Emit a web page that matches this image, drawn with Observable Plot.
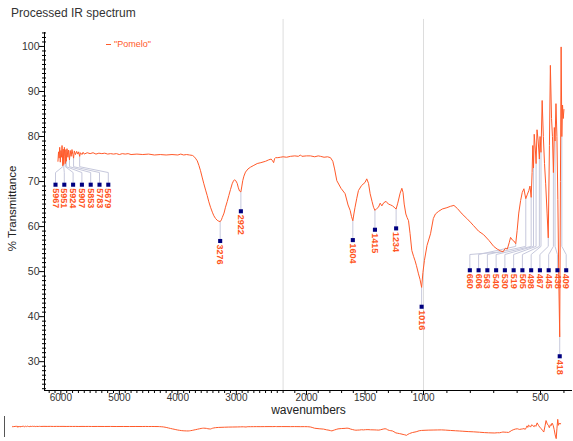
<!DOCTYPE html>
<html>
<head>
<meta charset="utf-8">
<script src="https://cdn.jsdelivr.net/npm/d3@7"></script>
<script src="https://cdn.jsdelivr.net/npm/@observablehq/plot@0.6"></script>
<style>
  body { margin: 0; background: #fff; font-family: "Liberation Sans", Arial, sans-serif; }
  #wrap { position: relative; width: 573px; height: 441px; overflow: hidden; }
  #main { position: absolute; left: 0; top: 0; }
  #title { position: absolute; left: 11px; top: 6px; font-size: 12px; line-height: 14px; color: #333; }
  #legend { position: absolute; left: 106px; top: 39px; font-size: 9px; line-height: 11px; color: #ff5a2a; }
  #legend i { display: inline-block; width: 5px; height: 1px; background: #ff5a2a; vertical-align: middle; margin-right: 3px; }
  #overview { position: absolute; left: 0; top: 412px; }
  #ovbar { position: absolute; left: 4px; top: 416px; width: 0; height: 21px; border-left: 1px solid #555; }
</style>
</head>
<body>
<div id="wrap">
  <div id="main"></div>
  <div id="title">Processed IR spectrum</div>
  <div id="legend"><i></i>"Pomelo"</div>
  <div id="overview"></div>
  <div id="ovbar"></div>
</div>
<script>
// Spectrum: wavenumber (cm-1) and % transmittance
const wavenumber = [
  6050, 6040, 6030, 6020, 6010, 6000, 5990, 5980, 5967, 5960, 5951, 5940, 5932, 5924, 5915, 5907,
  5895, 5880, 5870, 5853, 5840, 5825, 5810, 5795, 5783, 5770, 5750, 5730, 5710, 5695, 5679, 5665,
  5640, 5620, 5600, 5550, 5500, 5450, 5400, 5350, 5300, 5250, 5200, 5150, 5100, 5050, 5000, 4950,
  4900, 4850, 4800, 4700, 4600, 4500, 4400, 4300, 4200, 4100, 4000, 3950, 3900, 3850, 3800, 3750,
  3727, 3700, 3668, 3640, 3612, 3585, 3555, 3525, 3498, 3470, 3441, 3410, 3384, 3355, 3327, 3300,
  3276, 3255, 3241, 3210, 3185, 3155, 3128, 3100, 3071, 3050, 3031, 3010, 2985, 2965, 2945, 2922,
  2905, 2890, 2870, 2843, 2800, 2757, 2700, 2643, 2580, 2500, 2450, 2404, 2380, 2362, 2345, 2330,
  2290, 2245, 2200, 2170, 2137, 2100, 2070, 2051, 2040, 2000, 1966, 1930, 1900, 1880, 1850, 1820,
  1795, 1775, 1760, 1741, 1705, 1670, 1645, 1627, 1615, 1604, 1595, 1585, 1570, 1556, 1530, 1500,
  1485, 1470, 1456, 1440, 1427, 1415, 1400, 1385, 1370, 1356, 1340, 1320, 1300, 1280, 1265, 1251,
  1234, 1220, 1200, 1185, 1175, 1165, 1151, 1140, 1128, 1115, 1100, 1085, 1072, 1060, 1043, 1030,
  1016, 1005, 996, 985, 970, 958, 949, 935, 920, 900, 885, 870, 855, 835, 815, 800,
  786, 765, 743, 720, 700, 685, 671, 660, 650, 642, 634, 628, 620, 614, 606, 600,
  593, 585, 578, 571, 566, 563, 556, 550, 545, 540, 536, 533, 530, 527, 522, 519,
  515, 510, 505, 502, 498, 493, 488, 483, 478, 472, 467, 462, 458, 453, 449, 445,
  441, 438, 434, 430, 426, 422, 418, 415, 412, 409, 406, 403, 400
];
const transmittance = [
  74.5, 76.6, 75.2, 77.6, 74.3, 76.9, 75.4, 78.0, 73.5, 77.2, 73.8, 77.6, 75.5, 74.0, 77.1, 74.5,
  77.3, 75.4, 77.0, 74.8, 76.9, 75.6, 77.1, 76.0, 75.2, 76.8, 76.0, 76.7, 76.1, 76.6, 75.6, 76.4,
  76.0, 76.5, 76.1, 76.4, 76.2, 76.4, 76.1, 76.3, 76.2, 76.3, 76.1, 76.2, 76.1, 76.2, 76.0, 76.2,
  76.1, 76.2, 76.0, 76.1, 76.0, 76.1, 75.9, 76.0, 75.9, 76.0, 75.9, 76.1, 75.9, 76.0, 75.9, 75.8,
  75.6, 75.2, 74.6, 73.6, 72.4, 71.0, 69.5, 68.1, 66.9, 65.5, 64.3, 63.2, 62.4, 61.8, 61.4, 61.2,
  61.1, 61.5, 62.0, 63.0, 64.3, 65.6, 66.9, 68.2, 69.5, 70.1, 70.4, 70.2, 69.6, 68.6, 67.9, 67.7,
  69.0, 70.2, 71.2, 72.1, 72.8, 73.2, 73.6, 74.0, 74.2, 74.5, 74.8, 75.0, 74.6, 74.2, 75.1, 75.3,
  75.3, 75.4, 75.5, 75.4, 75.6, 75.7, 75.6, 75.9, 75.6, 75.7, 75.7, 75.5, 75.7, 75.6, 75.4, 75.5,
  75.3, 74.5, 72.8, 70.2, 68.5, 67.3, 64.8, 63.6, 62.2, 61.3, 62.8, 64.3, 66.3, 68.0, 69.1, 69.8,
  70.6, 69.6, 67.3, 65.6, 64.3, 63.6, 64.0, 64.3, 65.2, 64.6, 65.3, 65.6, 65.0, 64.8, 64.6, 64.3,
  63.9, 65.2, 67.4, 68.5, 67.6, 65.0, 62.8, 62.0, 61.3, 58.5, 54.7, 53.4, 52.4, 51.3, 49.5, 48.3,
  46.5, 49.8, 52.5, 55.8, 58.4, 61.8, 62.8, 63.4, 63.9, 64.2, 64.5, 64.7, 64.0, 62.8, 61.8, 61.0,
  60.2, 59.0, 58.2, 56.9, 55.6, 55.0, 54.6, 54.4, 55.2, 55.0, 56.4, 57.6, 57.0, 56.8, 56.2, 59.1,
  63.0, 65.8, 67.6, 68.4, 67.0, 66.2, 67.2, 68.0, 69.0, 66.5, 72.0, 78.0, 73.0, 80.5, 77.0, 74.0,
  81.5, 79.0, 75.0, 80.0, 76.5, 88.0, 80.0, 74.0, 69.5, 63.0, 57.5, 78.0, 95.8, 84.0, 80.0, 72.0,
  82.0, 79.0, 87.3, 80.0, 66.0, 48.0, 35.5, 70.0, 99.9, 80.0, 87.0, 84.0, 86.0
];

// Labelled absorption minima
const peaksHighWn = [5967, 5951, 5924, 5907, 5853, 5783, 5679];
const peaksSingle = [3276, 2922, 1604, 1415, 1234, 1016, 418];
const peaksLowWn = [660, 606, 563, 540, 530, 519, 505, 498, 467, 445, 438, 409];

// Axis ticks
const xMajor = [6000, 5000, 4000, 3000, 2000, 1500, 1000, 500];
const xMinor = d3.range(6200, 399, -100).filter(v => !xMajor.includes(v));
const yMajor = [30, 40, 50, 60, 70, 80, 90, 100];
const yMinor = d3.range(24, 104, 1).filter(v => v % 10 !== 0);

const lineColor = "#ff5a2a";
const labelColor = "#ff5522";
const leaderColor = "#c6c8dc";
const markerColor = "#000080";

const spectrum = wavenumber.map((w, i) => ({wn: w, t: transmittance[i]}));
const tAt = new Map(spectrum.map(d => [d.wn, d.t]));

// x axis is compressed above 2200 and expanded below 1000 cm-1
const xScaleOpts = {type: "linear", domain: [6280, 2200, 1000, 360], range: [44, 282.6, 423, 572.8]};
const yScaleOpts = {domain: [23.6, 103.1]};
const xs = Plot.scale({x: xScaleOpts});

// Fan crowded labels out at a fixed pixel pitch, kept inside the frame
function spread(peaks, lo, hi, step) {
  const px = peaks.map(w => xs.apply(w));
  let start = d3.mean(px) - step * (peaks.length - 1) / 2;
  start = Math.max(lo, Math.min(start, hi - step * (peaks.length - 1)));
  return peaks.map((w, i) => xs.invert(start + i * step));
}

const markers = [];
const leaders = [];
function addCluster(peaks, lo, hi, step, knee1, knee2, level) {
  const pos = spread(peaks, lo, hi, step);
  peaks.forEach((w, i) => {
    const t = tAt.get(w);
    markers.push({label: w, wn: pos[i], t: level});
    leaders.push(
      {id: w, wn: w, t},
      {id: w, wn: w, t: Math.min(t, knee1)},
      {id: w, wn: pos[i], t: knee2},
      {id: w, wn: pos[i], t: level}
    );
  });
}
addCluster(peaksHighWn, 55, 560, 8.8, 73.3, 72.0, 69.3);
addCluster(peaksLowWn, 55, 565.7, 8.76, 55.6, 53.8, 50.3);
peaksSingle.forEach(w => {
  const t = tAt.get(w);
  markers.push({label: w, wn: w, t: t - 4.3});
  leaders.push({id: w, wn: w, t}, {id: w, wn: w, t: t - 4.3});
});

const blank = () => "";

const main = Plot.plot({
  width: 573,
  height: 420,
  marginTop: 32,
  marginBottom: 30,
  marginLeft: 44,
  marginRight: 1,
  style: {fontFamily: "Liberation Sans, Arial, sans-serif", background: "transparent"},
  x: xScaleOpts,
  y: yScaleOpts,
  marks: [
    Plot.ruleX([2200, 1000], {y1: 23.6, y2: 106, stroke: "#dddddd"}),
    Plot.axisX({ticks: xMinor, tickSize: 3, tickFormat: blank, label: null}),
    Plot.axisX({ticks: xMajor, tickSize: 5, tickFormat: blank, label: null}),
    Plot.axisX({ticks: xMajor, tickSize: 0, tickPadding: 3, tickFormat: d => String(d), fontSize: 10, fill: "#333", label: null}),
    Plot.axisY({ticks: yMinor, tickSize: 4, dx: 2, tickFormat: blank, label: null}),
    Plot.axisY({ticks: yMajor, tickSize: 5, tickFormat: blank, label: null}),
    Plot.axisY({ticks: yMajor, tickSize: 0, tickPadding: 5, tickFormat: d => String(d), fontSize: 10.5, fill: "#333", label: null}),
    Plot.ruleY([23.6], {stroke: "#000"}),
    Plot.ruleX([6280], {stroke: "#000"}),
    Plot.text(["wavenumbers"], {frameAnchor: "bottom", textAnchor: "middle", lineAnchor: "middle", dy: 19.7, fontSize: 12, fill: "#222"}),
    Plot.text(["% Transmittance"], {frameAnchor: "left", textAnchor: "middle", lineAnchor: "middle", dx: -32.3, dy: -3, rotate: -90, fontSize: 11.5, fill: "#222"}),
    Plot.line(leaders, {x: "wn", y: "t", z: "id", stroke: leaderColor, strokeWidth: 1}),
    Plot.line(spectrum, {x: "wn", y: "t", stroke: lineColor, strokeWidth: 1}),
    Plot.dot(markers, {x: "wn", y: "t", symbol: "square", r: 2.3, fill: markerColor, stroke: null}),
    Plot.text(markers, {x: "wn", y: "t", text: d => String(d.label), rotate: 90, textAnchor: "start", lineAnchor: "middle", dy: 3.5, fontSize: 9, fontWeight: "bold", fill: labelColor})
  ]
});
document.getElementById("main").append(main);

// Overview strip of the whole spectrum
const ovRange = xScaleOpts.range.map(v => -50.5 + 1.084 * v);
const overview = Plot.plot({
  width: 573,
  height: 29,
  marginTop: 4,
  marginBottom: 4,
  marginLeft: 4,
  marginRight: 2,
  style: {background: "transparent"},
  x: {type: "linear", domain: xScaleOpts.domain, range: ovRange, axis: null},
  y: {domain: [39.3, 109.3], axis: null},
  marks: [
    Plot.line(spectrum, {x: "wn", y: "t", stroke: lineColor, strokeWidth: 1})
  ]
});
document.getElementById("overview").append(overview);
</script>
</body>
</html>
